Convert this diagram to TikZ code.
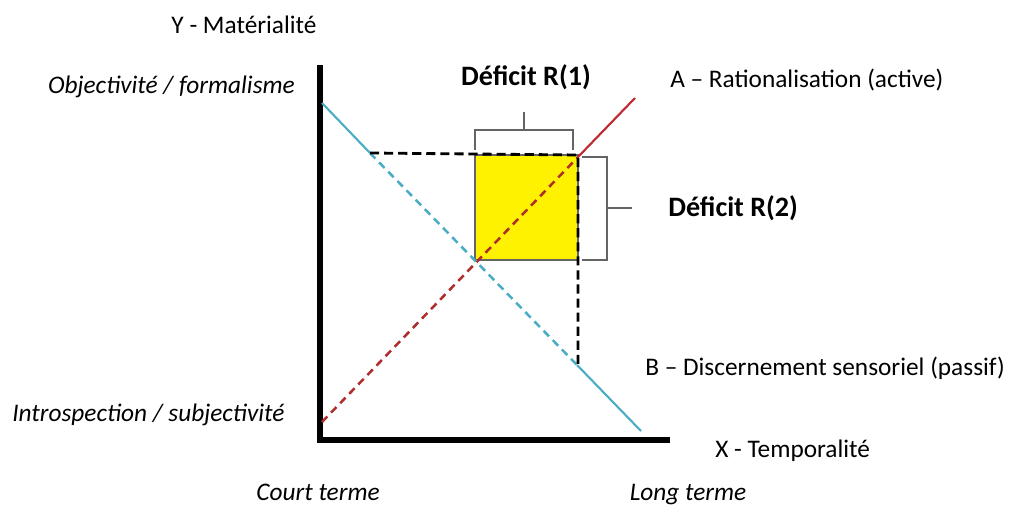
\documentclass[tikz,border=0pt]{standalone}
\usepackage{fontspec}
\setmainfont{Carlito}
\usepackage{tikz}
\usetikzlibrary{positioning, calc}
\definecolor{lineblue}{RGB}{75,172,198}
\definecolor{linered}{RGB}{192,40,50}
\definecolor{dashred}{RGB}{175,45,45}
\definecolor{deficitfill}{RGB}{255,242,0}
\definecolor{bracegray}{RGB}{100,100,100}
\tikzset{
  axisline/.style={line width=3.6pt, color=black, line join=miter},
  curvered/.style={line width=1.5pt, color=linered},
  curveblue/.style={line width=1.5pt, color=lineblue},
  dashcurve/.style={line width=1.8pt, dash pattern=on 5.5pt off 3.8pt},
  guide/.style={line width=2pt, color=black, dash pattern=on 6.5pt off 3.5pt},
  brace/.style={line width=1pt, color=bracegray},
  lbl/.style={inner sep=0pt, font=\fontsize{18}{21}\selectfont},
  ilbl/.style={inner sep=0pt, font=\fontsize{18}{21}\selectfont\itshape},
  blbl/.style={inner sep=0pt, font=\fontsize{20}{24}\selectfont\bfseries}
}

\begin{document}
\begin{tikzpicture}[x=0.025cm, y=-0.025cm]
  \useasboundingbox (0,0) rectangle (1011,506);

  % Points
  \coordinate (ytop) at (320,65);
  \coordinate (orig) at (320,440);
  \coordinate (xend) at (670,440);
  \coordinate (b0) at (322,103);
  \coordinate (b1) at (370,153);
  \coordinate (b2) at (577,365);
  \coordinate (b3) at (641,431);
  \coordinate (r0) at (322,422);
  \coordinate (r1) at (578,157);
  \coordinate (r3) at (635,98);
  \coordinate (sqtl) at (475,155);
  \coordinate (sqbr) at (578,260);
  \coordinate (vend) at (578,367);

  % Deficit square
  \filldraw[brace, fill=deficitfill] (sqtl) rectangle (sqbr);

  % Axes
  \draw[axisline] (ytop) -- (orig) -- (xend);

  % Curves
  \draw[curvered] (r1) -- (r3);
  \draw[dashcurve, color=dashred] (r0) -- (r1);
  \draw[curveblue] (b0) -- (b1);
  \draw[dashcurve, color=lineblue] (b1) -- (b2);
  \draw[curveblue] (b2) -- (b3);

  % Guides
  \draw[guide] (b1) -- (sqtl -| sqbr) -- (vend);

  % Braces
  \coordinate (r1tick) at (524,112);
  \draw[brace] (475,150) -- (475,130) -- (573,130) -- (573,150);
  \draw[brace] (524,130) -- (r1tick);
  \coordinate (r2tick) at (632,208);
  \draw[brace] (582,157) -- (607,157) -- (607,260) -- (582,260);
  \draw[brace] (607,208) -- (r2tick);

  % Labels
  \node[lbl] (ylab) at (244,25) {Y - Matérialité};
  \node[ilbl, anchor=east] (objlab) at (295,87) {Objectivité / formalisme};
  \node[ilbl, anchor=west] (intlab) at (12,415) {Introspection / subjectivité};
  \node[ilbl, anchor=base] (courtlab) at (318,500) {Court terme};
  \node[ilbl, anchor=base] (longlab) at (688,500) {Long terme};
  \node[lbl, anchor=west] (xlab) at (715,451) {X - Temporalité};
  \node[lbl, anchor=west] (alab) at (670,80) {A – Rationalisation (active)};
  \node[lbl, anchor=west] (blab) at (645,368) {B – Discernement sensoriel (passif)};
  \node[blbl] (r1lab) at (526,77) {Déficit R(1)};
  \node[blbl, right=0.9cm of r2tick] (r2lab) {Déficit R(2)};

\end{tikzpicture}
\end{document}
